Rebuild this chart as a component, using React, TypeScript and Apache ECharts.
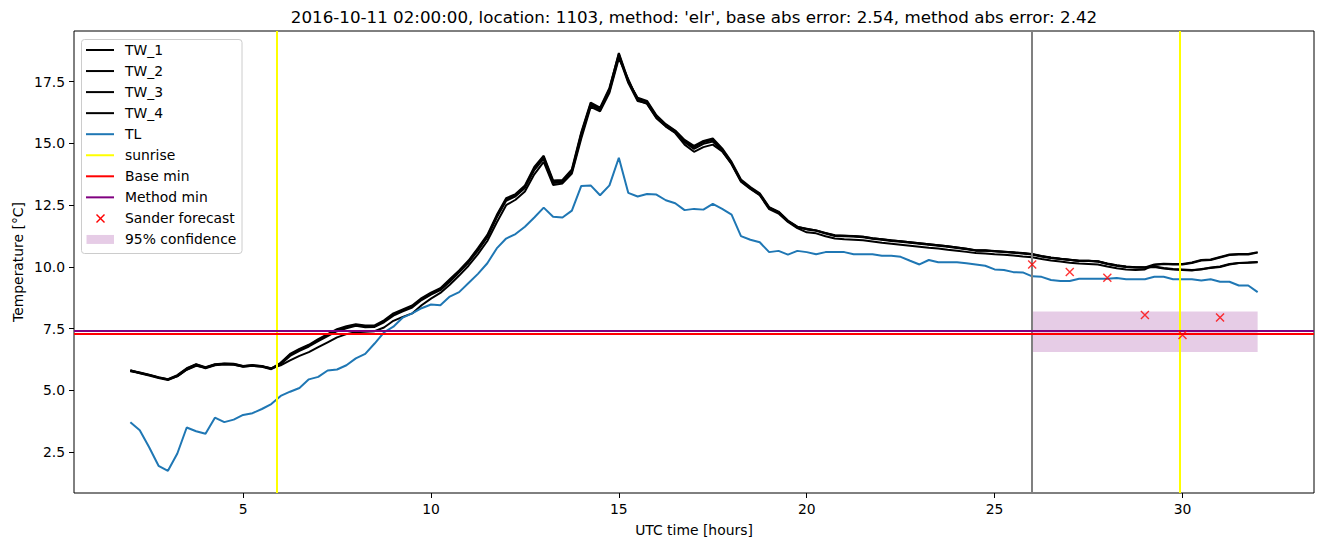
import React, { useEffect, useRef } from "react";
import * as echarts from "echarts";

// ---- data ----
const TL = [3.71,3.39,2.70,1.95,1.75,2.45,3.50,3.35,3.25,3.90,3.72,3.82,4.01,4.08,4.25,4.45,4.78,4.95,5.10,5.45,5.55,5.81,5.85,6.02,6.30,6.48,6.90,7.35,7.58,7.95,8.12,8.33,8.48,8.45,8.80,8.98,9.35,9.72,10.15,10.75,11.15,11.33,11.63,12.00,12.40,12.03,12.00,12.28,13.28,13.30,12.90,13.30,14.42,13.00,12.85,12.95,12.93,12.70,12.58,12.30,12.35,12.32,12.55,12.35,12.12,11.25,11.10,11.00,10.60,10.65,10.50,10.65,10.60,10.51,10.60,10.60,10.60,10.51,10.51,10.51,10.45,10.45,10.41,10.25,10.10,10.28,10.19,10.19,10.19,10.15,10.10,10.05,9.90,9.88,9.79,9.78,9.62,9.60,9.47,9.43,9.43,9.52,9.52,9.52,9.52,9.55,9.50,9.50,9.50,9.60,9.60,9.50,9.50,9.50,9.45,9.50,9.40,9.40,9.25,9.25,8.98];

const TW_1 = [5.80,5.72,5.62,5.52,5.45,5.60,5.88,6.05,5.92,6.05,6.08,6.07,5.98,6.02,5.98,5.88,6.10,6.45,6.65,6.82,7.05,7.25,7.45,7.56,7.65,7.60,7.60,7.80,8.08,8.25,8.40,8.70,8.92,9.10,9.45,9.82,10.22,10.72,11.25,12.05,12.73,12.90,13.25,14.00,14.45,13.45,13.47,13.90,15.40,16.60,16.40,17.20,18.66,17.55,16.80,16.68,16.10,15.75,15.50,15.10,14.85,15.05,15.15,14.75,14.21,13.50,13.20,12.95,12.38,12.20,11.85,11.60,11.52,11.46,11.35,11.25,11.24,11.23,11.20,11.14,11.10,11.05,11.02,10.98,10.94,10.90,10.86,10.82,10.77,10.72,10.66,10.66,10.63,10.60,10.57,10.54,10.50,10.42,10.36,10.32,10.28,10.24,10.24,10.22,10.12,10.05,10.00,9.98,9.98,10.10,10.13,10.12,10.12,10.18,10.28,10.30,10.40,10.50,10.52,10.52,10.60];

const TW_2 = [5.82,5.70,5.60,5.50,5.42,5.58,5.85,6.02,5.90,6.02,
  6.06,6.05,5.96,6.00,5.96,5.86,6.06,6.40,6.60,6.78,
  7.00,7.20,7.40,7.52,7.62,7.56,7.57,7.76,8.03,8.20,
  8.36,8.66,8.88,9.06,9.40,9.78,10.18,10.66,11.20,12.00,
  12.68,12.86,13.20,13.92,14.38,13.40,13.42,13.84,15.30,16.55,
  16.35,17.12,18.52,17.45,16.72,16.62,16.04,15.70,15.45,15.05,
  14.78,14.98,15.08,14.70,14.16,13.45,13.16,12.90,12.34,12.16,
  11.82,11.57,
  11.40,11.36,11.24,11.15,11.12,11.10,11.08,11.03,10.98,10.94,10.90,10.86,10.82,10.78,10.75,10.70,10.66,10.61,10.56,10.54,10.51,10.49,10.46,10.42,10.39,10.32,10.26,10.22,10.17,10.14,10.12,10.10,10.02,9.95,9.90,9.88,9.90,
  10.08,10.12,10.10,10.10,10.16,10.26,10.28,10.38,10.48,10.50,10.50,10.58];

const TW_3 = [5.78,5.71,5.63,5.53,5.44,5.57,5.84,6.00,5.93,6.03,6.06,6.04,5.97,6.00,5.97,5.90,6.02,
  6.22,6.40,6.55,6.75,6.95,7.15,7.28,7.36,7.38,7.40,7.55,7.82,7.98,8.12,8.45,8.72,8.95,9.28,9.65,
  10.05,10.52,11.05,11.80,12.50,12.72,13.05,13.75,14.25,13.32,13.38,13.78,
  15.20,16.48,16.30,17.05,18.45,17.60,16.75,16.60,16.02,15.68,15.42,14.95,14.66,14.85,14.95,14.68,14.18,
  13.48,13.18,12.92,12.40,12.22,11.86,11.62,11.55,11.48,11.38,11.28,11.26,11.24,11.22,11.16,11.12,11.08,11.04,11.00,10.96,10.92,10.88,10.84,10.79,10.74,10.68,10.68,10.65,10.62,10.59,10.56,
  10.52,10.44,10.38,10.33,10.29,10.25,10.25,10.23,10.14,10.07,10.02,9.99,9.97,
  10.00,9.94,9.90,9.88,9.86,9.92,9.96,10.00,10.10,10.16,10.18,10.20];

const TW_4 = [5.81,5.73,5.64,5.54,5.46,5.62,5.90,6.06,5.94,6.06,6.09,6.08,5.99,6.03,5.99,5.89,6.12,
  6.48,6.68,6.85,7.08,7.28,7.48,7.60,7.68,7.63,7.63,7.84,8.12,8.28,8.44,8.74,8.96,9.14,9.50,9.86,
  10.26,10.76,11.30,12.10,12.78,12.95,13.30,14.05,14.50,13.50,13.52,13.95,
  15.45,16.65,16.45,17.25,18.62,17.50,16.85,16.72,16.14,15.78,15.52,15.14,14.90,15.10,15.20,14.80,14.25,
  13.54,13.23,12.98,12.42,12.24,11.88,11.63,11.54,11.48,11.37,11.27,11.26,11.25,11.22,11.16,11.12,11.07,11.04,11.00,10.96,10.92,10.88,10.84,10.79,10.74,10.67,10.67,10.64,10.61,10.58,10.55,
  10.51,10.43,10.37,10.33,10.29,10.25,10.25,10.22,10.13,10.06,10.01,9.99,9.99,
  10.02,9.96,9.92,9.90,9.88,9.90,9.98,10.02,10.12,10.16,10.17,10.19];

const START_HOUR = 2;
const STEP_HOURS = 0.25;
const HOURS = TL.map((_, i) => START_HOUR + i * STEP_HOURS);

const SUNRISE = [5.9, 29.93];
const FORECAST_START = 26;
const BASE_MIN = 7.28;
const METHOD_MIN = 7.40;
const SANDER_HOURS = [26, 27, 28, 29, 30, 31];
const SANDER_VALUES = [10.1, 9.8, 9.56, 8.05, 7.25, 7.95];
const CONF_HOURS = [26, 32];
const CONF_LOW = 6.56;
const CONF_HIGH = 8.2;

const X_TICKS = [5, 10, 15, 20, 25, 30];
const Y_TICKS = [2.5, 5.0, 7.5, 10.0, 12.5, 15.0, 17.5];

const TITLE = "2016-10-11 02:00:00, location: 1103, method: 'elr', base abs error: 2.54, method abs error: 2.42";

const FONT = '"DejaVu Sans", sans-serif';
const BLUE = "#1f77b4";

function pairs(values: number[]) {
  return HOURS.map((h, i) => [h, values[i]]);
}

function buildLegend() {
  const items = [
    { label: "TW_1", kind: "line", color: "#000000" },
    { label: "TW_2", kind: "line", color: "#000000" },
    { label: "TW_3", kind: "line", color: "#000000" },
    { label: "TW_4", kind: "line", color: "#000000" },
    { label: "TL", kind: "line", color: BLUE },
    { label: "sunrise", kind: "line", color: "#ffff00" },
    { label: "Base min", kind: "line", color: "#ff0000" },
    { label: "Method min", kind: "line", color: "#800080" },
    { label: "Sander forecast", kind: "marker", color: "#ff0000" },
    { label: "95% confidence", kind: "patch", color: "rgba(128,0,128,0.2)" },
  ];
  const els: any[] = [
    {
      type: "rect",
      shape: { x: 81.5, y: 39.5, width: 160.5, height: 214, r: 3 },
      style: { fill: "rgba(255,255,255,0.8)", stroke: "#cccccc", lineWidth: 1 },
      z: 100,
    },
  ];
  items.forEach((it, i) => {
    const cy = 50 + i * 21.05;
    if (it.kind === "line") {
      els.push({
        type: "line",
        shape: { x1: 86, y1: cy, x2: 114, y2: cy },
        style: { stroke: it.color, lineWidth: 2 },
        z: 101,
      });
    } else if (it.kind === "marker") {
      els.push({
        type: "line",
        shape: { x1: 96.5, y1: cy - 4, x2: 104.5, y2: cy + 4 },
        style: { stroke: it.color, lineWidth: 1.4 },
        z: 101,
      });
      els.push({
        type: "line",
        shape: { x1: 104.5, y1: cy - 4, x2: 96.5, y2: cy + 4 },
        style: { stroke: it.color, lineWidth: 1.4 },
        z: 101,
      });
    } else {
      els.push({
        type: "rect",
        shape: { x: 86.5, y: cy - 4.5, width: 27.5, height: 9 },
        style: { fill: it.color },
        z: 101,
      });
    }
    els.push({
      type: "text",
      x: 125,
      y: cy,
      style: {
        text: it.label,
        fontSize: 13.9,
        fontFamily: FONT,
        fill: "#000000",
        align: "left",
        verticalAlign: "middle",
      },
      z: 101,
    });
  });
  return els;
}

export default function App() {
  const ref = useRef<HTMLDivElement>(null);
  useEffect(() => {
    if (!ref.current) return;
    const chart = echarts.init(ref.current, undefined, { renderer: "svg" });
    const lineSeries = (name: string, values: number[], color: string, z: number) => ({
      name,
      type: "line",
      data: pairs(values),
      showSymbol: false,
      symbol: "none",
      lineStyle: { color, width: 2 },
      itemStyle: { color },
      z,
      silent: true,
    });
    const option: any = {
      animation: false,
      backgroundColor: "#ffffff",
      grid: {
        left: 74,
        top: 31,
        width: 1240,
        height: 462,
        show: true,
        borderColor: "#000000",
        borderWidth: 1,
        backgroundColor: "transparent",
      },
      xAxis: {
        type: "value",
        min: 0.5,
        max: 33.5,
        axisLine: { show: false },
        splitLine: { show: false },
        axisTick: {
          show: true,
          length: 5,
          lineStyle: { color: "#000000", width: 1 },
          customValues: X_TICKS,
        },
        axisLabel: {
          show: true,
          margin: 9,
          color: "#000000",
          fontSize: 13.9,
          fontFamily: FONT,
          customValues: X_TICKS,
          formatter: (v: number) => String(v),
        },
      },
      yAxis: {
        type: "value",
        min: 0.85,
        max: 19.55,
        axisLine: { show: false },
        splitLine: { show: false },
        axisTick: {
          show: true,
          length: 5,
          lineStyle: { color: "#000000", width: 1 },
          customValues: Y_TICKS,
        },
        axisLabel: {
          show: true,
          margin: 9,
          color: "#000000",
          fontSize: 13.9,
          fontFamily: FONT,
          customValues: Y_TICKS,
          formatter: (v: number) => v.toFixed(1),
        },
      },
      series: [
        {
          name: "95% confidence",
          type: "line",
          data: [],
          z: 1,
          silent: true,
          markArea: {
            silent: true,
            itemStyle: { color: "rgba(128,0,128,0.2)" },
            data: [[
              { xAxis: CONF_HOURS[0], yAxis: CONF_LOW },
              { xAxis: CONF_HOURS[1], yAxis: CONF_HIGH },
            ]],
          },
        },
        lineSeries("TW_1", TW_1, "#000000", 2),
        lineSeries("TW_2", TW_2, "#000000", 2),
        lineSeries("TW_3", TW_3, "#000000", 2),
        lineSeries("TW_4", TW_4, "#000000", 2),
        lineSeries("TL", TL, BLUE, 3),
        {
          name: "sunrise",
          type: "line",
          data: [],
          z: 4,
          silent: true,
          markLine: {
            silent: true,
            symbol: ["none", "none"],
            label: { show: false },
            lineStyle: { color: "#ffff00", width: 2, type: "solid" },
            data: SUNRISE.map((s) => ({ xAxis: s })),
          },
        },
        {
          name: "forecast start",
          type: "line",
          data: [],
          z: 4,
          silent: true,
          markLine: {
            silent: true,
            symbol: ["none", "none"],
            label: { show: false },
            lineStyle: { color: "#808080", width: 2, type: "solid" },
            data: [{ xAxis: FORECAST_START }],
          },
        },
        {
          name: "Base min",
          type: "line",
          data: [],
          z: 5,
          silent: true,
          markLine: {
            silent: true,
            symbol: ["none", "none"],
            label: { show: false },
            lineStyle: { color: "#ff0000", width: 2, type: "solid" },
            data: [{ yAxis: BASE_MIN }],
          },
        },
        {
          name: "Method min",
          type: "line",
          data: [],
          z: 5,
          silent: true,
          markLine: {
            silent: true,
            symbol: ["none", "none"],
            label: { show: false },
            lineStyle: { color: "#800080", width: 2, type: "solid" },
            data: [{ yAxis: METHOD_MIN }],
          },
        },
        {
          name: "Sander forecast",
          type: "scatter",
          data: SANDER_HOURS.map((h, i) => [h, SANDER_VALUES[i]]),
          symbol: "path://M0,0L10,10M10,0L0,10",
          symbolSize: 8,
          itemStyle: { color: "rgba(0,0,0,0)", borderColor: "#ff0000", borderWidth: 1.4 },
          z: 6,
          silent: true,
        },
      ],
      graphic: [
        {
          type: "text",
          x: 694,
          y: 17,
          style: {
            text: TITLE,
            fontSize: 16.7,
            fontFamily: FONT,
            fill: "#000000",
            align: "center",
            verticalAlign: "middle",
          },
        },
        {
          type: "text",
          x: 694,
          y: 530,
          style: {
            text: "UTC time [hours]",
            fontSize: 13.9,
            fontFamily: FONT,
            fill: "#000000",
            align: "center",
            verticalAlign: "middle",
          },
        },
        {
          type: "text",
          x: 18,
          y: 262,
          rotation: Math.PI / 2,
          style: {
            text: "Temperature [°C]",
            fontSize: 13.9,
            fontFamily: FONT,
            fill: "#000000",
            align: "center",
            verticalAlign: "middle",
          },
        },
        ...buildLegend(),
      ],
    };
    chart.setOption(option);
    return () => chart.dispose();
  }, []);
  return (
    <div
      ref={ref}
      style={{ position: "fixed", left: 0, top: 0, width: 1324, height: 547, background: "#fff" }}
    />
  );
}
